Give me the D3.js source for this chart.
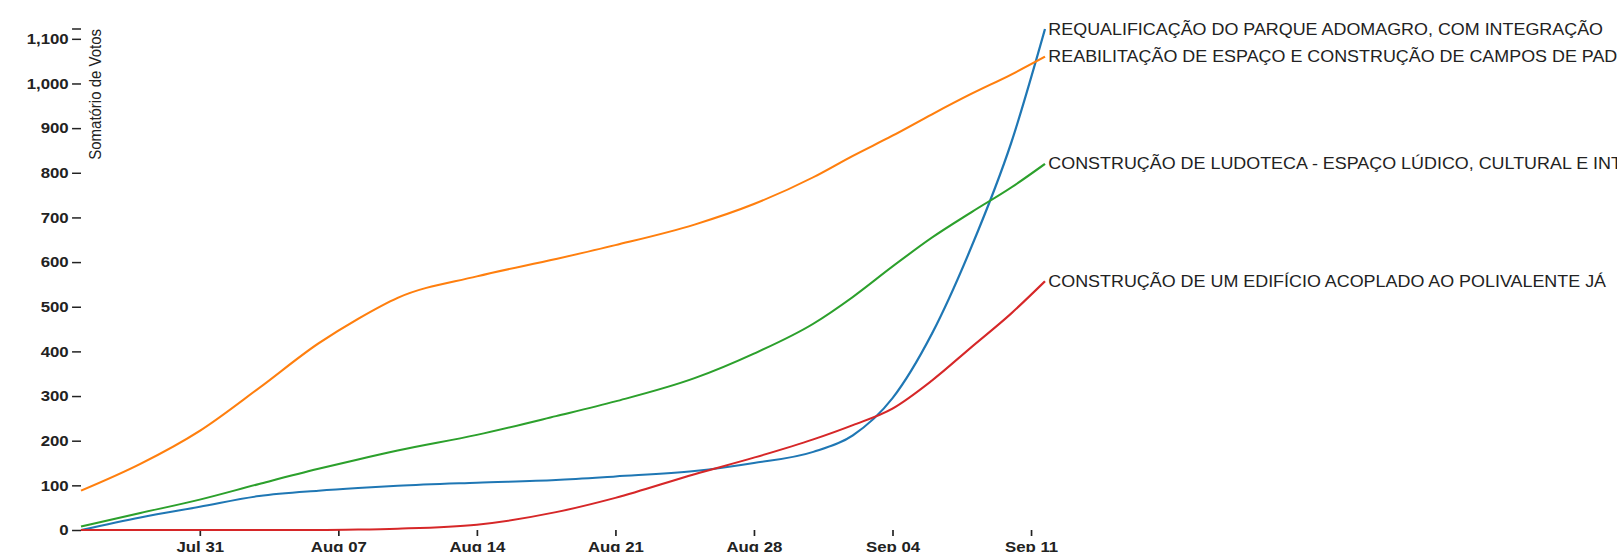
<!DOCTYPE html>
<html>
<head>
<meta charset="utf-8">
<script src="https://cdn.jsdelivr.net/npm/d3@7"></script>
<style>
  body { margin: 0; background: #fff; overflow: hidden; }
  svg { display: block; }
  .axis text { font-family: "Liberation Sans", Arial, sans-serif; font-size: 15px; font-weight: bold; fill: #222; }
  .axis line { stroke: #222; stroke-width: 1.5; }
  .axis .domain { display: none; }
  .y-title { font-family: "Liberation Sans", Arial, sans-serif; font-size: 15px; fill: #222; }
  .label { font-family: "Liberation Sans", Arial, sans-serif; font-size: 16px; fill: #222; }
  .line { fill: none; stroke-width: 2; }
</style>
</head>
<body>
<div id="chart"></div>
<script>
// dias
const dates = ["2022-07-25T00:00", "2022-07-28T00:00", "2022-07-31T00:00", "2022-08-03T00:00",
  "2022-08-06T00:00", "2022-08-08T00:00", "2022-08-10T00:00", "2022-08-14T00:00", "2022-08-18T00:00",
  "2022-08-21T00:00", "2022-08-25T00:00", "2022-08-28T00:00", "2022-08-31T00:00", "2022-09-02T00:00",
  "2022-09-04T00:00", "2022-09-06T00:00", "2022-09-08T00:00", "2022-09-10T00:00", "2022-09-11T17:00"];

// votos acumulados por projeto
const requalificacao = [0, 28, 52, 76, 88, 94, 99, 106, 112, 120, 132, 150, 175, 212, 295, 440, 635, 867, 1122];
const reabilitacao = [88, 148, 222, 318, 418, 473, 520, 568, 607, 638, 684, 730, 790, 838, 883, 931, 977, 1020, 1060];
const ludoteca = [8, 38, 68, 103, 137, 158, 178, 213, 255, 288, 340, 395, 462, 522, 590, 655, 712, 767, 820];
const edificio = [0, 0, 0, 0, 0, 1, 3, 12, 40, 72, 125, 162, 203, 235, 272, 335, 410, 485, 557];

const seriesNames = [
  "REQUALIFICAÇÃO DO PARQUE ADOMAGRO, COM INTEGRAÇÃO",
  "REABILITAÇÃO DE ESPAÇO E CONSTRUÇÃO DE CAMPOS DE PAD",
  "CONSTRUÇÃO DE LUDOTECA - ESPAÇO LÚDICO, CULTURAL E INT",
  "CONSTRUÇÃO DE UM EDIFÍCIO ACOPLADO AO POLIVALENTE JÁ"
];
const seriesValues = [requalificacao, reabilitacao, ludoteca, edificio];
const colors = d3.schemeCategory10.slice(0, 4);

const yTitle = "Somatório de Votos";

// the reference looks stretched sideways, so draw in a narrower box and stretch it
const stretch = 1.12;
const outerWidth = 1617, outerHeight = 552;
const width = outerWidth / stretch;
const margin = { top: 29, left: 81 / stretch };
const innerWidth = (1045 - 81) / stretch;
const innerHeight = 501;

const parse = d3.timeParse("%Y-%m-%dT%H:%M");
const series = seriesNames.map((name, i) => ({
  name,
  color: colors[i],
  values: dates.map((d, j) => ({ date: parse(d), value: seriesValues[i][j] }))
}));

const svg = d3.select("#chart").append("svg")
  .attr("width", outerWidth)
  .attr("height", outerHeight)
  .attr("viewBox", `0 0 ${width} ${outerHeight}`)
  .attr("preserveAspectRatio", "none")
  .append("g")
  .attr("transform", `translate(${margin.left},${margin.top})`);

const x = d3.scaleTime()
  .domain(d3.extent(dates, parse))
  .range([0, innerWidth]);

const y = d3.scaleLinear()
  .domain([0, d3.max(seriesValues, s => d3.max(s))])
  .range([innerHeight, 0]);

svg.append("g")
  .attr("class", "x axis")
  .attr("transform", `translate(0,${innerHeight})`)
  .call(d3.axisBottom(x)
    .ticks(d3.timeWeek.every(1))
    .tickFormat(d3.timeFormat("%b %d"))
    .tickSize(6)
    .tickPadding(5));

const yAxis = svg.append("g")
  .attr("class", "y axis")
  .call(d3.axisLeft(y).ticks(10).tickFormat(d3.format(",")).tickSize(8).tickPadding(3));

// outer tick at the top of the axis
yAxis.append("line")
  .attr("x1", -8)
  .attr("x2", 0)
  .attr("y1", y(y.domain()[1]))
  .attr("y2", y(y.domain()[1]));

yAxis.append("text")
  .attr("class", "y-title")
  .attr("transform", "rotate(-90)")
  .attr("y", 7)
  .attr("dy", ".71em")
  .style("text-anchor", "end")
  .style("font-weight", "normal")
  .text(yTitle);

const line = d3.line()
  .x(d => x(d.date))
  .y(d => y(d.value))
  .curve(d3.curveMonotoneX);

const project = svg.selectAll(".project")
  .data(series)
  .enter().append("g")
  .attr("class", "project");

project.append("path")
  .attr("class", "line")
  .attr("d", d => line(d.values))
  .style("stroke", d => d.color);

project.append("text")
  .attr("class", "label")
  .datum(d => ({ name: d.name, value: d.values[d.values.length - 1] }))
  .attr("transform", d => `translate(${x(d.value.date)},${y(d.value.value)})`)
  .attr("x", 3)
  .attr("dy", ".35em")
  .text(d => d.name);
</script>
</body>
</html>
